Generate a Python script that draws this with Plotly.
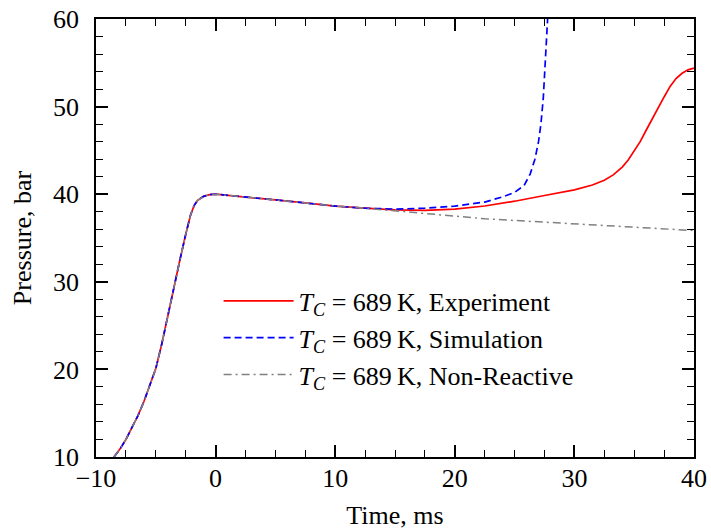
import plotly.graph_objects as go

# shared compression part (all three traces overlap here)
t_rise = [-8.5, -8.0, -7.5, -7.0, -6.5, -6.0, -5.5, -5.0, -4.5, -4.0, -3.5, -3.0,
          -2.5, -2.1, -1.8, -1.5, -1.0, -0.5, 0.0, 2.5, 5.0, 7.5, 10.0, 12.5]
p_rise = [10.0, 10.9, 12.0, 13.3, 14.7, 16.3, 18.1, 20.1, 22.9, 26.2, 29.3, 32.4,
          35.4, 37.6, 38.7, 39.3, 39.75, 39.95, 40.0, 39.7, 39.35, 39.0, 38.65, 38.4]

# experiment after 12.5 ms
t_exp = [15.0, 17.5, 20.0, 22.5, 25.0, 27.5, 30.0, 31.5, 32.5, 33.25, 34.0, 34.5,
         35.0, 35.5, 36.0, 36.5, 37.0, 37.5, 38.0, 38.5, 39.0, 39.5, 40.0]
p_exp = [38.2, 38.15, 38.3, 38.65, 39.2, 39.85, 40.5, 41.05, 41.6, 42.2, 43.1, 43.9,
         44.9, 46.0, 47.3, 48.6, 49.9, 51.1, 52.3, 53.2, 53.8, 54.2, 54.4]

# simulation after 12.5 ms
t_sim = [15.0, 17.5, 20.0, 22.5, 24.0, 25.0, 25.8, 26.3, 26.7, 27.0, 27.2, 27.4, 27.55, 27.7, 27.8]
p_sim = [38.3, 38.4, 38.65, 39.1, 39.7, 40.2, 41.0, 42.3, 44.0, 46.0, 48.0, 51.0, 54.5, 58.5, 61.0]

# non-reactive after 12.5 ms
t_nr = [15.0, 17.5, 20.0, 22.5, 25.0, 30.0, 35.0, 40.0]
p_nr = [38.1, 37.85, 37.55, 37.2, 37.0, 36.6, 36.2, 35.85]

label = "<i>T</i><sub><i>C</i></sub> = 689\u2009K, "

fig = go.Figure()
fig.add_trace(go.Scatter(x=t_rise + t_exp, y=p_rise + p_exp, mode="lines",
                         name=label + "Experiment",
                         line=dict(color="#ff0000", width=1.7)))
fig.add_trace(go.Scatter(x=t_rise + t_sim, y=p_rise + p_sim, mode="lines",
                         name=label + "Simulation",
                         line=dict(color="#0000ff", width=1.7, dash="7px,4px")))
fig.add_trace(go.Scatter(x=t_rise + t_nr, y=p_rise + p_nr, mode="lines",
                         name=label + "Non-Reactive",
                         line=dict(color="#808080", width=1.5, dash="8px,4px,2px,4px")))

ejes = dict(showline=True, linecolor="black", linewidth=1.5, mirror="allticks",
            ticks="inside", ticklen=12, tickwidth=1.5, tickcolor="black",
            showgrid=False, zeroline=False, automargin=False,
            ticklabeloverflow="allow",
            tickfont=dict(size=26, color="black"))

fig.update_xaxes(range=[-10, 40], dtick=10, tick0=0, ticklabelstandoff=-3,
                 minor=dict(ticks="inside", ticklen=7, dtick=2.5, tickwidth=1.2, tickcolor="black"),
                 title=dict(text="Time, ms", font=dict(size=26), standoff=14), **ejes)
fig.update_yaxes(range=[10, 60], dtick=10, tick0=0, ticklabelstandoff=10,
                 minor=dict(ticks="inside", ticklen=7, dtick=2, tickwidth=1.2, tickcolor="black"),
                 title=dict(text="Pressure, bar", font=dict(size=26), standoff=14), **ejes)

fig.update_layout(width=711, height=531,
                  margin=dict(l=96, r=17, t=19, b=74),
                  paper_bgcolor="white", plot_bgcolor="white",
                  font=dict(family="Liberation Serif", color="black"),
                  legend=dict(x=0.205, y=0.41, xanchor="left", yanchor="top",
                              bgcolor="rgba(0,0,0,0)", font=dict(size=26),
                              tracegroupgap=0, itemwidth=70),
                  showlegend=True)

# quitar el margen de 8 px del body para que la figura ocupe toda la ventana
fig.write_html("out.html", config={"displayModeBar": False},
               post_script="document.body.style.margin='0';")
